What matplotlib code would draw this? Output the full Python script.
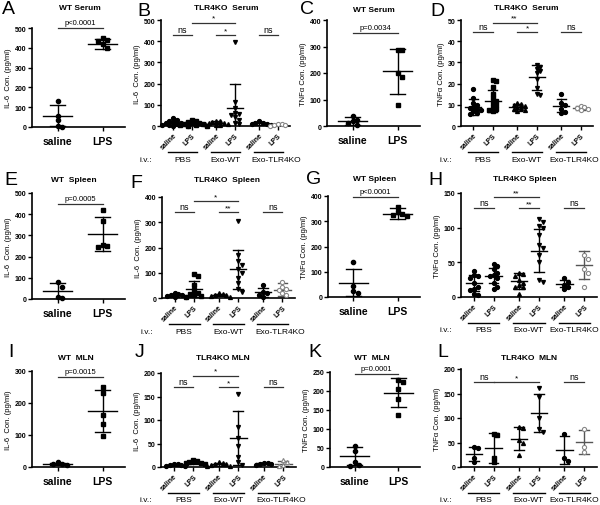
import numpy as np
import matplotlib.pyplot as plt

plt.rcParams['font.family'] = ['Liberation Sans', 'DejaVu Sans']
plt.rcParams['font.weight'] = 'bold'

# ---------------- data ----------------
# two-group panels (saline, LPS): points, means, SDs
a_vals = [[133, 58, 35, 5, 2], [452, 438, 432, 418, 400]]
a_mean = [58, 420]
a_sd = [55, 26]

c_vals = [[38, 22, 18, 10, 2], [288, 285, 200, 185, 80]]
c_mean = [18, 207]
c_sd = [15, 85]

e_vals = [[78, 58, 10, 3], [420, 368, 255, 248, 245]]
e_mean = [38, 307]
e_sd = [38, 81]

g_vals = [[140, 45, 25, 15], [355, 335, 330, 325, 320]]
g_mean = [57, 330]
g_sd = [55, 22]

i_vals = [[15, 10, 8, 5], [250, 232, 162, 135, 97]]
i_mean = [10, 175]
i_sd = [3, 65]

k_vals = [[55, 42, 12, 5, 3], [228, 225, 205, 180, 137]]
k_mean = [29, 195]
k_sd = [24, 38]

# six-group panels: saline/LPS for PBS, Exo-WT, Exo-TLR4KO
b_vals = [[40, 28, 25, 20, 15, 12, 10, 8, 5, 3, 2, 0],
          [30, 25, 20, 15, 12, 10, 8, 5, 3, 2, 1],
          [25, 22, 18, 15, 12, 10, 8, 5, 3],
          [395, 115, 85, 60, 55, 50, 42, 30, 15, 10],
          [22, 15, 12, 10, 8, 5],
          [10, 8, 5, 3, 2]]
b_mean = [12, 12, 15, 86, 12, 5]
b_sd = [10, 8, 7, 112, 6, 3]

d_vals = [[17.5, 13, 11, 10, 9, 8.5, 8, 7.5, 7, 6, 5.5],
          [21.5, 21, 18.5, 15, 13, 12, 11, 10, 9, 8, 7.5, 7],
          [11, 10.5, 10, 9.5, 9, 8.5, 8, 7.5, 7],
          [29, 28, 27, 26, 25, 22, 18, 15, 14.5],
          [15, 11, 10, 8, 6.5, 6],
          [9.5, 9, 8.5, 8, 7.5]]
d_mean = [9, 11.8, 8.8, 23, 9.6, 8.5]
d_sd = [3.8, 5, 1.5, 6, 3.2, 1]

f_vals = [[20, 15, 12, 10, 8, 5, 3],
          [95, 88, 50, 30, 20, 15, 10, 8, 5],
          [18, 15, 12, 10, 8, 5],
          [305, 170, 145, 130, 115, 100, 80, 60, 35, 25],
          [50, 25, 20, 10, 5],
          [65, 45, 35, 30, 20, 10]]
f_mean = [10, 35, 12, 113, 22, 33]
f_sd = [5, 32, 5, 78, 18, 25]

h_vals = [[38, 32, 30, 28, 20, 15, 12, 10, 5, 3],
          [48, 44, 40, 35, 32, 30, 28, 20, 15, 12],
          [35, 33, 30, 25, 20, 17, 15, 14, 5],
          [113, 108, 103, 100, 90, 75, 70, 60, 50, 25, 22],
          [27, 22, 18, 15, 12],
          [60, 55, 40, 35, 15]]
h_mean = [20, 31, 23, 67, 19, 46]
h_sd = [12, 11, 11, 31, 5, 20]

j_vals = [[7, 6, 5, 4, 3, 2],
          [15, 12, 10, 9, 8, 7],
          [10, 9, 7, 6, 5, 3, 2],
          [155, 85, 62, 45, 22, 10, 5],
          [9, 8, 7, 6, 5],
          [15, 10, 5, 3]]
j_mean = [5, 9, 6, 62, 8, 7]
j_sd = [2, 2, 3, 58, 1, 5]

l_vals = [[40, 38, 18, 10],
          [68, 66, 18, 10],
          [82, 80, 55, 50, 25],
          [162, 142, 100, 78, 72],
          [68, 18, 12],
          [78, 40, 30]]
l_mean = [26, 39, 58, 110, 35, 51]
l_sd = [14, 30, 24, 38, 29, 25]

group_names = ['PBS', 'Exo-WT', 'Exo-TLR4KO']
tick_names = ['saline', 'LPS'] * 3

# ---------------- figure ----------------
W, H = 600, 506
fig = plt.figure(figsize=(6, 5.06), dpi=100)


def px_rect(l, t, r, b):
    return [l / W, 1 - b / H, (r - l) / W, (b - t) / H]


def swarm_x(ax, xc, vals, step):
    # spread points sideways where they would overlap (pixel space)
    placed, out = [], []
    inv = ax.transData.inverted()
    for v in vals:
        x0, y0 = ax.transData.transform((xc, v))
        for k in range(40):
            dx = ((k + 1) // 2) * step * (1 if k % 2 else -1)
            if all((x0 + dx - p) ** 2 + (y0 - q) ** 2 >= step ** 2 for p, q in placed):
                break
        placed.append((x0 + dx, y0))
        out.append(inv.transform((x0 + dx, y0))[0])
    return out


def mean_sd(ax, x, m, s, hm, hc, color):
    ax.plot([x - hm, x + hm], [m, m], color=color, lw=1)
    ax.plot([x, x], [m - s, m + s], color=color, lw=1)
    for y in (m - s, m + s):
        ax.plot([x - hc, x + hc], [y, y], color=color, lw=1)


def style(ax, ymax, ystep, ylabel):
    for s in ['top', 'right']:
        ax.spines[s].set_visible(False)
    for s in ['left', 'bottom']:
        ax.spines[s].set_linewidth(1.2)
    ax.set_ylim(0, ymax)
    ax.set_yticks(np.arange(0, ymax + 0.01, ystep))
    ax.tick_params(axis='y', labelsize=5, width=1, length=3, pad=1)
    ax.tick_params(axis='x', width=1, length=3)
    ax.set_ylabel(ylabel, fontsize=5.5, labelpad=2)


def two_group(rect, vals, means, sds, ymax, ystep, ylabel, sig_y, ptxt):
    ax = fig.add_axes(px_rect(*rect))
    style(ax, ymax, ystep, ylabel)
    ax.set_xlim(-0.57, 1.5)
    ax.set_xticks([0, 1])
    ax.set_xticklabels(['saline', 'LPS'], fontsize=7.5)
    for i, (v, m, s, mk) in enumerate(zip(vals, means, sds, ['o', 's'])):
        xs = swarm_x(ax, i, v, 4.5)
        ax.plot(xs, v, mk, ls='none', ms=3, color='k', clip_on=False, zorder=3)
        mean_sd(ax, i, m, s, 0.33, 0.17, 'k')
    ax.plot([0, 1], [sig_y, sig_y], color='#333', lw=0.9, clip_on=False)
    ax.annotate(ptxt, (0.5, sig_y), xytext=(0, 1.5), textcoords='offset points',
                ha='center', va='bottom', fontsize=5.5, weight='normal',
                annotation_clip=False)
    return ax


pos6 = [0, 1, 2.3, 3.3, 4.6, 5.6]


def six_group(rect, vals, means, sds, ymax, ystep, ylabel, markers, sigs,
              last_shift=0.4):
    ax = fig.add_axes(px_rect(*rect))
    style(ax, ymax, ystep, ylabel)
    ax.set_xlim(-0.65, 6.25)
    ax.set_xticks(pos6)
    ax.set_xticklabels(tick_names, fontsize=5, rotation=45, ha='right',
                       rotation_mode='anchor')
    ax.tick_params(axis='x', pad=1)
    for i, (v, m, s, mk) in enumerate(zip(vals, means, sds, markers)):
        xs = swarm_x(ax, pos6[i], v, 3.8)
        if i == 5:
            ax.plot(xs, v, mk, ls='none', ms=3, mfc='white', mec='#888',
                    mew=0.8, clip_on=False, zorder=3)
            mean_sd(ax, pos6[i], m, s, 0.42, 0.25, '#555')
        else:
            ax.plot(xs, v, mk, ls='none', ms=2.8, color='k', clip_on=False, zorder=3)
            mean_sd(ax, pos6[i], m, s, 0.42, 0.25, 'k')
    for g1, g2, y, txt in sigs:
        ax.plot([pos6[g1], pos6[g2]], [y, y], color='#333', lw=0.9, clip_on=False)
        ax.annotate(txt, ((pos6[g1] + pos6[g2]) / 2, y), xytext=(0, 0.8),
                    textcoords='offset points', ha='center', va='bottom',
                    fontsize=6.5 if txt == 'ns' else 6, weight='normal',
                    annotation_clip=False)
    # group underlines below the rotated tick labels
    l, t, r, b = rect
    tr = ax.get_xaxis_transform()
    hpx = b - t
    shifts = [0, 0, last_shift]
    for gi, name in enumerate(group_names):
        c = (pos6[2 * gi] + pos6[2 * gi + 1]) / 2
        ax.plot([c - 0.8, c + 0.8], [-26 / hpx, -26 / hpx], color='k', lw=1,
                transform=tr, clip_on=False)
        ax.text(c + shifts[gi], -33 / hpx, name, transform=tr, ha='center',
                va='center', fontsize=6, weight='normal')
    ax.text(-15 / (r - l), -33 / hpx, 'i.v.:', transform=ax.transAxes,
            ha='center', va='center', fontsize=6, weight='normal')
    return ax


il6 = 'IL-6  Con. (pg/ml)'
tnf = 'TNFα Con. (pg/ml)'
mk_std = ['o', 's', '^', 'v', 'o', 'o']

two_group((32, 29, 125, 128), a_vals, a_mean, a_sd, 500, 100, il6, 500, 'p<0.0001')
six_group((161, 21, 290, 127), b_vals, b_mean, b_sd, 500, 100, il6, mk_std,
          [(0, 1, 429, 'ns'), (1, 3, 486, '*'), (2, 3, 429, '*'), (4, 5, 429, 'ns')])
two_group((327, 21, 420, 127), c_vals, c_mean, c_sd, 400, 100, tnf, 351, 'p=0.0034')
six_group((461, 21, 593, 127), d_vals, d_mean, d_sd, 50, 10, tnf, mk_std,
          [(0, 1, 44.3, 'ns'), (1, 3, 48.6, '**'), (2, 3, 44.3, '*'), (4, 5, 44.3, 'ns')],
          last_shift=0.15)

two_group((32, 194, 125, 300), e_vals, e_mean, e_sd, 500, 100, il6, 448, 'p=0.0005')
six_group((162, 198, 295, 299), f_vals, f_mean, f_sd, 400, 100, il6, mk_std,
          [(0, 1, 340, 'ns'), (1, 3, 384, '*'), (2, 3, 340, '**'), (4, 5, 340, 'ns')])
two_group((328, 197, 420, 298), g_vals, g_mean, g_sd, 400, 100, tnf, 396, 'p<0.0001')
six_group((461, 194, 597, 298), h_vals, h_mean, h_sd, 150, 50, tnf,
          ['o', 'o', '^', 'v', 'o', 'o'],
          [(0, 1, 128, 'ns'), (1, 3, 144, '**'), (2, 3, 128, '**'), (4, 5, 128, 'ns')],
          last_shift=0.0)

two_group((32, 372, 125, 468), i_vals, i_mean, i_sd, 300, 100, il6, 281, 'p=0.0015')
six_group((161, 374, 296, 468), j_vals, j_mean, j_sd, 200, 50, il6,
          ['o', 's', '^', 'v', 'o', '^'],
          [(0, 1, 170, 'ns'), (1, 3, 194, '*'), (2, 3, 170, '*'), (4, 5, 170, 'ns')])
two_group((330, 373, 420, 468), k_vals, k_mean, k_sd, 250, 50, tnf, 245, 'p=0.0001')
six_group((461, 370, 597, 468), l_vals, l_mean, l_sd, 200, 50, tnf, mk_std,
          [(0, 1, 173, 'ns'), (1, 3, 173, '*'), (4, 5, 173, 'ns')],
          last_shift=0.0)

# titles
titles = [('WT Serum', 80, 8), ('TLR4KO  Serum', 226, 9), ('WT Serum', 374, 10),
          ('TLR4KO  Serum', 526, 9), ('WT  Spleen', 74, 181), ('TLR4KO  Spleen', 227, 181),
          ('WT Spleen', 375, 180), ('TLR4KO Spleen', 525, 180), ('WT  MLN', 76, 358),
          ('TLR4KO MLN', 223, 358), ('WT  MLN', 372, 358), ('TLR4KO  MLN', 529, 359)]
for txt, x, y in titles:
    fig.text(x / W, 1 - y / H, txt, ha='center', va='center', fontsize=6)

letters = [('A', 2, 10), ('B', 137, 11), ('C', 300, 10), ('D', 430, 11),
           ('E', 4, 181), ('F', 130, 184), ('G', 306, 180), ('H', 428, 181),
           ('I', 8, 353), ('J', 135, 353), ('K', 308, 353), ('L', 437, 353)]
for txt, x, y in letters:
    fig.text(x / W, 1 - y / H, txt, ha='left', va='center', fontsize=14,
             weight='normal')

fig.savefig('out.png', dpi=100)
